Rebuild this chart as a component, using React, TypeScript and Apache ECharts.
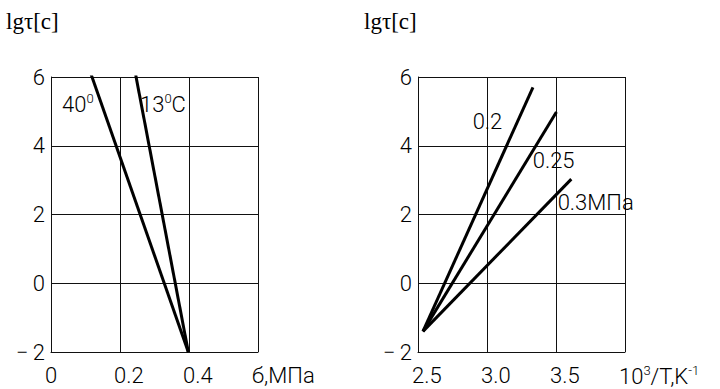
import React, { useEffect, useRef } from "react";
import * as echarts from "echarts";

// Left panel: lg τ vs stress σ (MPa)
const leftXTickLabels = ["0", "0.2", "0.4", "б,МПа"];
const line40: [number, number][] = [[0.113, 6.17], [0.398, -2]];
const line13: [number, number][] = [[0.2455, 6.06], [0.398, -2]];
const leftLabels = [
  { text: "40{s|0}", coord: [0.032, 5.19] },
  { text: "13{s|0}C", coord: [0.258, 5.19] },
];

// Right panel: lg τ vs 10^3/T
const rightXTickLabels = ["2.5", "3.0", "3.5", "10{s|3}/T,K{s|-1}"];
const line02: [number, number][] = [[2.536, -1.4], [3.333, 5.7]];
const line025: [number, number][] = [[2.536, -1.4], [3.503, 4.98]];
const line03: [number, number][] = [[2.536, -1.4], [3.611, 3.03]];
const rightLabels = [
  { text: "0.2", coord: [2.896, 4.7] },
  { text: "0.25", coord: [3.331, 3.57] },
  { text: "0.3МПа", coord: [3.512, 2.35] },
];

const yTickValues = [-2, 0, 2, 4, 6];
const yTitle = "lgτ[c]";

const FONT = "Roboto, 'Liberation Sans', Arial, sans-serif";
const FW = 300;
const FS = 22;

export default function App() {
  const ref = useRef<HTMLDivElement>(null);
  useEffect(() => {
    if (!ref.current) return;
    const chart = echarts.init(ref.current, null, { renderer: "svg" });
    const supRich = {
      s: { fontSize: 13, fontFamily: FONT, fontWeight: FW, color: "#000", padding: [0, 0, 12, 0] },
    };
    const yAxisCommon = (gridIndex: number) => ({
      type: "value",
      gridIndex,
      min: -2,
      max: 6,
      interval: 2,
      axisLine: { show: true, lineStyle: { color: "#111", width: 1 } },
      axisTick: { show: false },
      splitLine: { show: true, lineStyle: { color: "#111", width: 1 } },
      axisLabel: {
        fontFamily: FONT,
        fontWeight: FW,
        fontSize: FS,
        color: "#000",
        margin: 6,
        formatter: (v: number) => {
          const i = yTickValues.indexOf(Math.round(v));
          const n = yTickValues[i];
          return n < 0 ? "−\u2009" + Math.abs(n) : String(n);
        },
      },
    });
    const xAxisCommon = (gridIndex: number, min: number, max: number, interval: number, labels: string[]) => ({
      type: "value",
      gridIndex,
      min,
      max,
      interval,
      axisLine: { show: true, onZero: false, lineStyle: { color: "#111", width: 1 } },
      axisTick: { show: false },
      splitLine: { show: true, lineStyle: { color: "#111", width: 1 } },
      axisLabel: {
        fontFamily: FONT,
        fontWeight: FW,
        fontSize: FS,
        color: "#000",
        margin: 12,
        align: "left",
        padding: [0, 0, 0, -6],
        rich: supRich,
        formatter: (v: number) => labels[Math.round((v - min) / interval)],
      },
    });
    const lineSeries = (data: [number, number][], idx: number) => ({
      type: "line",
      xAxisIndex: idx,
      yAxisIndex: idx,
      data,
      symbol: "none",
      lineStyle: { color: "#000", width: 3 },
      silent: true,
    });
    const labelSeries = (items: { text: string; coord: number[] }[], idx: number) => ({
      type: "scatter",
      xAxisIndex: idx,
      yAxisIndex: idx,
      symbolSize: 0,
      silent: true,
      itemStyle: { opacity: 1 },
      data: items.map((it) => ({ value: it.coord, name: it.text })),
      label: {
        show: true,
        position: "right",
        distance: 0,
        opacity: 1,
        formatter: (p: any) => p.name,
        fontFamily: FONT,
        fontWeight: FW,
        fontSize: FS,
        color: "#000",
        rich: supRich,
      },
    });
    const titleFont = "23px 'Liberation Serif', 'Times New Roman', serif";
    chart.setOption({
      animation: false,
      grid: [
        { left: 51, top: 77, width: 207, height: 275 },
        { left: 418, top: 77, width: 207, height: 275 },
      ],
      xAxis: [
        xAxisCommon(0, 0, 0.6, 0.2, leftXTickLabels),
        xAxisCommon(1, 2.5, 4, 0.5, rightXTickLabels),
      ],
      yAxis: [yAxisCommon(0), yAxisCommon(1)],
      graphic: [
        { type: "text", left: 6, top: 10, style: { text: yTitle, font: titleFont, fill: "#000" } },
        { type: "text", left: 364, top: 10, style: { text: yTitle, font: titleFont, fill: "#000" } },
      ],
      series: [
        lineSeries(line40, 0),
        lineSeries(line13, 0),
        lineSeries(line02, 1),
        lineSeries(line025, 1),
        lineSeries(line03, 1),
        labelSeries(leftLabels, 0),
        labelSeries(rightLabels, 1),
      ],
    });
    return () => chart.dispose();
  }, []);
  return (
    <div
      ref={ref}
      style={{ position: "fixed", left: 0, top: 0, width: 720, height: 389, background: "#fff" }}
    />
  );
}
